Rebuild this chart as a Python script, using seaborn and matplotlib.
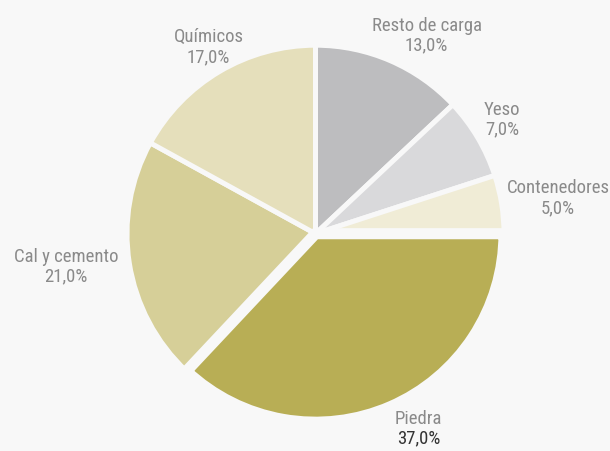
import numpy as np
import seaborn as sns
from matplotlib import pyplot as plt
from matplotlib import font_manager


CATEGORIES = ["Resto de carga", "Yeso", "Contenedores", "Piedra", "Cal y cemento", "Químicos"]
SHARES = [13.0, 7.0, 5.0, 37.0, 21.0, 17.0]
COLORS = ["#bdbdbf", "#d9d9db", "#f0ecd6", "#b8ae55", "#d6cf98", "#e5dfbb"]
HIGHLIGHT = "Piedra"

BG = "#f8f8f8"
LABEL_GREY = "#8a8a8a"
LABEL_DARK = "#333333"
# label placement: distance from centre (in radii) and angular nudge (deg)
LABEL_DIST = [1.205, 1.16, 1.30, 1.17, 1.335, 1.14]
LABEL_NUDGE = [-5.9, 0.8, -0.6, 4.5, -1.5, -0.8]


def pick_font():
    names = {f.name for f in font_manager.fontManager.ttflist}
    for name in ["Liberation Sans Narrow", "Roboto Condensed", "Roboto", "DejaVu Sans"]:
        if name in names:
            return name
    return "DejaVu Sans"


def main():
    sns.set_theme(style="white")
    plt.rcParams["font.family"] = [pick_font(), "DejaVu Sans"]

    fig = plt.figure(figsize=(6.1, 4.51), dpi=100, facecolor=BG)
    ax = fig.add_axes([0, 0, 1, 1])
    ax.set_facecolor(BG)

    r_px = 188.5
    cx, cy = 315.5, 233.7
    wedges, _ = ax.pie(
        SHARES,
        colors=COLORS,
        startangle=90,
        counterclock=False,
        radius=1.0,
        wedgeprops={"edgecolor": BG, "linewidth": 3.6},
    )
    # the highlighted slice carries a heavier border
    for w, name in zip(wedges, CATEGORIES):
        if name == HIGHLIGHT:
            w.set_linewidth(8.0)
            w.set_zorder(w.get_zorder() + 1)

    ax.set_xlim(-cx / r_px, (610 - cx) / r_px)
    ax.set_ylim(-(451 - cy) / r_px, cy / r_px)
    ax.set_aspect("equal")
    ax.axis("off")

    for w, name, share, dist, nudge in zip(wedges, CATEGORIES, SHARES, LABEL_DIST, LABEL_NUDGE):
        mid = np.deg2rad((w.theta1 + w.theta2) / 2 + nudge)
        x, y = dist * np.cos(mid), dist * np.sin(mid)
        pct = f"{share:.1f}%".replace(".", ",")
        ax.text(x, y + 0.053, name, ha="center", va="center", fontsize=13.5, color=LABEL_GREY)
        ax.text(x, y - 0.053, pct, ha="center", va="center", fontsize=13.5,
                color=LABEL_DARK if name == HIGHLIGHT else LABEL_GREY)

    fig.savefig("out.png", dpi=100, facecolor=BG)


if __name__ == "__main__":
    main()
